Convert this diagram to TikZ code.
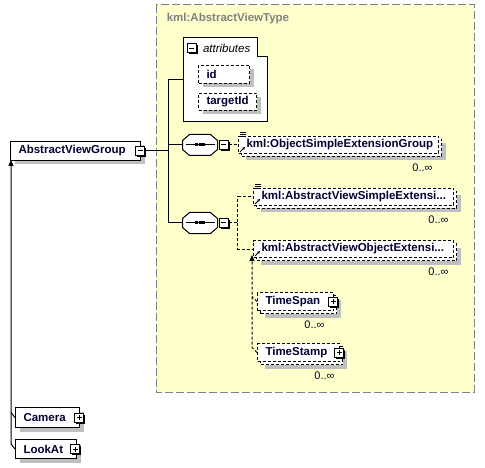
\documentclass[tikz,border=0pt]{standalone}
\usepackage{fontspec}
\setmainfont{Liberation Sans}
\usetikzlibrary{positioning,shadows,arrows.meta}

\definecolor{typefill}{HTML}{FFFFCC}
\definecolor{typeline}{HTML}{808080}
\definecolor{elemtext}{HTML}{000033}

\newcommand{\refarrow}[1]{\draw[line width=0.8pt, -{Stealth[length=3pt,width=3pt]}] ([shift={(2,-2)}]#1.south west) -- ++(5,-5);}
\newcommand{\reflines}[1]{\foreach \dy in {-4,-2,0} \draw[line width=0.7pt] ([shift={(2,\dy)}]#1.north west) -- ++(6,0);}
\newcommand{\octpath}[1]{([xshift=7pt]#1.north west) -- ([xshift=-7pt]#1.north east) -- ([yshift=-6pt]#1.north east)
  -- ([yshift=6pt]#1.south east) -- ([xshift=-7pt]#1.south east) -- ([xshift=7pt]#1.south west)
  -- ([yshift=6pt]#1.south west) -- ([yshift=-6pt]#1.north west) -- cycle}
\newcommand{\seqmark}[1]{
  \fill[black!25, shift={(4,4)}] \octpath{#1};
  \draw[fill=white] \octpath{#1};
  \draw ([xshift=3pt]#1.west) -- ([xshift=-3pt]#1.east);
  \foreach \dx in {-3.6,0,3.6} \fill ([xshift=\dx pt]#1.center) ++(-1.5,-1.5) rectangle ++(3,3);}

\tikzset{
  elem/.style={draw, fill=white, anchor=north west, inner xsep=8pt, inner ysep=0pt,
    text width=#1, align=left, minimum height=19pt, text=elemtext,
    font=\fontsize{11.5}{13}\selectfont\bfseries},
  opt/.style={dash pattern=on 3pt off 2pt},
  single/.style={drop shadow={shadow xshift=4pt, shadow yshift=-4pt, fill=black!25, opacity=1}},
  many/.style={minimum height=17pt,
    drop shadow={shadow xshift=7pt, shadow yshift=-7pt, fill=black!25, opacity=1},
    copy shadow={shadow xshift=3pt, shadow yshift=-3pt, draw=black, fill=white, opt}},
  pm/.style={draw, fill=white, minimum size=9pt, inner sep=0pt,
    drop shadow={shadow xshift=1.5pt, shadow yshift=-1.5pt, fill=black, opacity=1}},
  minus/.style={pm, path picture={
    \draw ([xshift=2pt]path picture bounding box.west) -- ([xshift=-2pt]path picture bounding box.east);}},
  plus/.style={pm, path picture={
    \draw ([xshift=2pt]path picture bounding box.west) -- ([xshift=-2pt]path picture bounding box.east);
    \draw ([yshift=2pt]path picture bounding box.south) -- ([yshift=-2pt]path picture bounding box.north);}},
  seq/.style={minimum width=34pt, minimum height=20pt, inner sep=0pt},
  typebox/.style={draw=typeline, fill=typefill, dash pattern=on 8pt off 3pt},
  title/.style={text=typeline, font=\fontsize{11.5}{13}\selectfont\bfseries},
  attrtext/.style={inner sep=0pt, font=\fontsize{11.5}{13}\selectfont\itshape},
  mult/.style={inner sep=0pt, text=elemtext, font=\fontsize{11}{13}\selectfont},
  subst/.style={-{Triangle[length=6pt,width=5pt]}}
}

\begin{document}
\begin{tikzpicture}[x=1pt, y=-1pt, line width=1pt]
  \useasboundingbox (0,0) rectangle (485,468);

  \draw[typebox] (156,5) rectangle (474,392);
  \node[title, anchor=west] (typename) at (163,19) {kml:AbstractViewType};

  \draw[fill=white] (183,38) -- (257,38) -- (257,57) -- (267,57) -- (267,122) -- (183,122) -- cycle;
  \node[minus] (attrm) at (191.5,48.5) {};
  \node[attrtext, right=6pt of attrm] (attr) {attributes};
  \coordinate (attrw) at (183,80);
  \node[elem=35pt, opt, single, minimum height=18pt] (id) at (198,65) {id};
  \node[elem=42pt, opt, single, minimum height=17pt] (tid) at (198,93) {targetId};

  \node[elem=114pt, single] (avg) at (10,141) {AbstractViewGroup};
  \node[minus] (avgm) at ([xshift=-1pt]avg.east) {};
  \node[elem=48pt, single, minimum height=20pt] (cam) at (15,407) {Camera};
  \node[plus] (camp) at ([xshift=-1pt]cam.east) {};
  \node[elem=45pt, single] (look) at (15,439) {LookAt};
  \node[plus] (lookp) at ([xshift=-2pt]look.east) {};

  \node[seq] (seqa) at (200,145) {};
  \seqmark{seqa}
  \node[minus, right=1pt of seqa] (seqam) {};
  \node[seq] (seqb) at (200,223) {};
  \seqmark{seqb}
  \node[minus, right=1pt of seqb] (seqbm) {};

  \node[elem=184pt, opt, many] (osg) at (238,136) {kml:ObjectSimpleExtensionGroup};
  \node[elem=184pt, opt, many] (avse) at (253,188) {kml:AbstractViewSimpleExtensi...};
  \node[elem=184pt, opt, many] (avoe) at (253,240) {kml:AbstractViewObjectExtensi...};
  \node[elem=60pt, opt, many, minimum height=18pt] (tspan) at (257,292) {TimeSpan};
  \node[plus] (tspanp) at ([xshift=-1pt]tspan.east) {};
  \node[elem=66pt, opt, many, minimum height=18pt] (tstamp) at (257,343) {TimeStamp};
  \node[plus] (tstampp) at ([xshift=-1pt]tstamp.east) {};

  \reflines{osg}
  \refarrow{osg}
  \reflines{avse}
  \refarrow{avse}
  \refarrow{avoe}

  \node[mult, below left=9pt and 6pt of osg.south east] (osgmult) {0..∞};
  \node[mult, below left=9pt and 5pt of avse.south east] (avsemult) {0..∞};
  \node[mult, below left=9pt and 5pt of avoe.south east] (avoemult) {0..∞};
  \node[mult, below left=9pt and 9pt of tspan.south east] (tspanmult) {0..∞};
  \node[mult, below left=9pt and 5pt of tstamp.south east] (tstampmult) {0..∞};

  \coordinate (trunk) at (168,150);
  \draw (avgm.east) -- (avgm.east -| trunk);
  \draw (attrw) -- (attrw -| trunk) -- (trunk |- seqb.west) -- (seqb.west);
  \draw (trunk |- seqa.west) -- (seqa.west);
  \draw[opt] (seqam.east) -- (osg.west);
  \draw[opt] (seqbm.east) -- ++(9,0) coordinate (fork) |- (avse.west);
  \draw[opt] (fork) |- (avoe.west);

  \draw[opt, subst, shorten >=-3pt] (tstamp.west) -- ++(-5,-5) coordinate (tsbend) -- (tsbend |- avoe.south);
  \draw[opt] (tspan.west) -- ++(-5,-5);
  \draw[subst, shorten >=-1pt] (look.west) -- ++(-4,-5) coordinate (lkbend) -- (lkbend |- avg.south);
  \draw (cam.west) -- ++(-4,-5);
\end{tikzpicture}
\end{document}
